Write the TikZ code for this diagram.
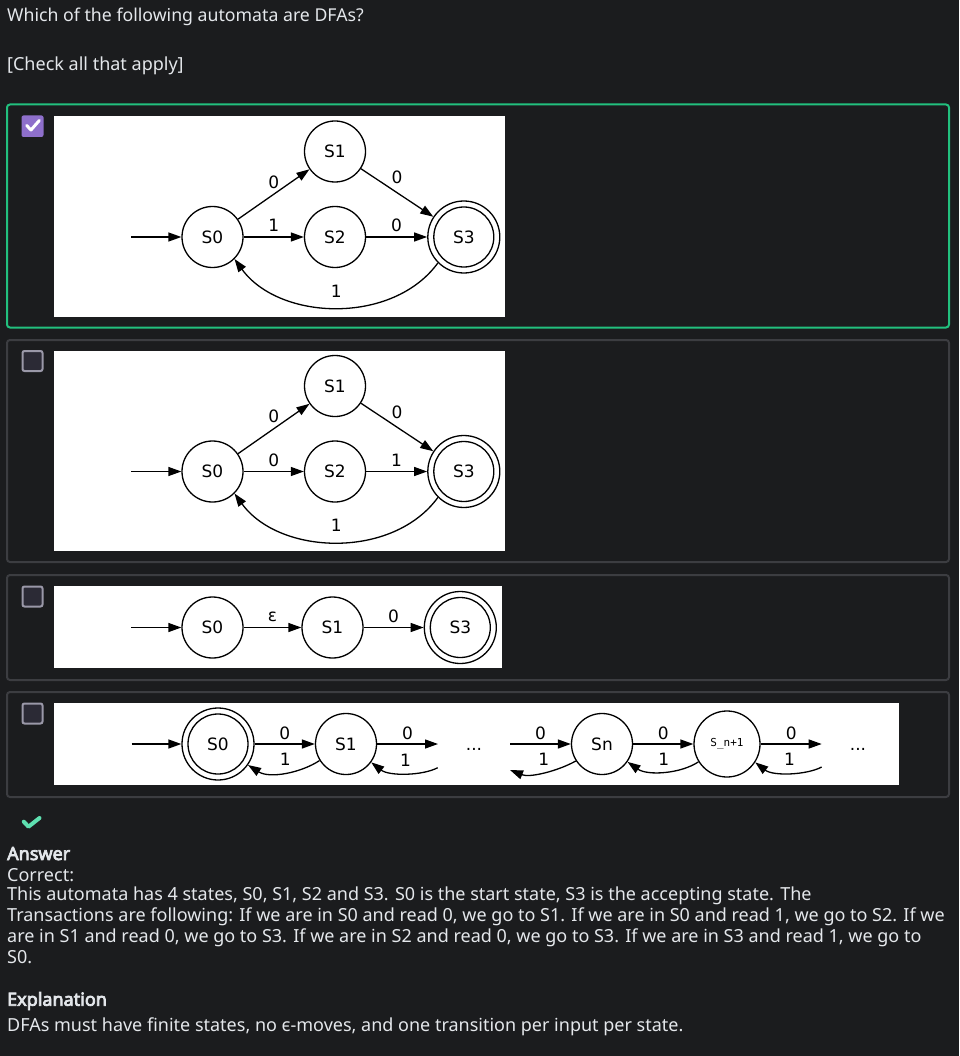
\documentclass[tikz,border=0pt]{standalone}
\usepackage{fontspec}
\setmainfont{Noto Sans}[AutoFakeBold=4]
\newfontfamily\gvfont{DejaVu Sans}
\newfontfamily\gvmono{DejaVu Sans Mono}
\usetikzlibrary{arrows.meta}

\definecolor{pagebg}{HTML}{1B1C1E}
\definecolor{uitext}{HTML}{E4E7EB}
\definecolor{okgreen}{HTML}{22C07E}
\definecolor{cardline}{HTML}{3C3D41}
\definecolor{tickpurple}{HTML}{8E6FCB}
\definecolor{boxfill}{HTML}{2B2A35}
\definecolor{boxline}{HTML}{9A98A8}
\definecolor{mint}{HTML}{5EE0B0}

\tikzset{
  ui/.style={text=uitext, inner sep=0pt, anchor=base west, font=\fontsize{18}{22}\selectfont},
  uititle/.style={ui, font=\fontsize{17.7}{22}\selectfont},
  uibold/.style={ui, font=\fontsize{18}{22}\selectfont\bfseries},
  card/.style={draw=cardline, line width=2pt, rounded corners=3pt},
  cardok/.style={card, draw=okgreen},
  panel/.style={fill=white},
  tickon/.style={fill=tickpurple, rounded corners=2pt},
  tickoff/.style={fill=boxfill, draw=boxline, line width=2pt, rounded corners=2pt},
  state/.style={circle, draw=black, line width=1.3pt, minimum size=61pt, inner sep=0pt,
    text=black, font=\gvfont\fontsize{17}{17}\selectfont},
  accept/.style={state, minimum size=72pt,
    path picture={\draw[line width=1.3pt] (path picture bounding box.center) circle (30pt);}},
  arr/.style={line width=1.3pt, draw=black, -{Triangle[length=13pt,width=9pt]}},
  lbl/.style={inner sep=0pt, anchor=base, text=black, font=\gvfont\fontsize{17}{17}\selectfont},
  dots/.style={inner sep=0pt, anchor=base, text=black, font=\gvfont\fontsize{17}{17}\selectfont},
}

\begin{document}
\begin{tikzpicture}[x=1pt, y=-1pt]
  \useasboundingbox (0,0) rectangle (959,1056);
  \fill[pagebg] (0,0) rectangle (959,1056);

  % question
  \node[uititle] (title) at (7,21.7) {Which of the following automata are DFAs?};
  \node[ui] (hint) at (7,71) {[Check all that apply]};

  % option cards
  \draw[cardok] (7,104.5) rectangle (949,327.5);
  \draw[card] (7,340) rectangle (949,562);
  \draw[card] (7,575) rectangle (949,680);
  \draw[card] (7,692) rectangle (949,797);

  % check boxes
  \fill[tickon] (21.5,115.5) rectangle (43.5,137);
  \draw[white, line width=3pt, line cap=round, line join=round]
    (26.7,125.5) -- (31,130) -- (39.3,120.5);
  \draw[tickoff] (22.5,351) rectangle (42.5,371);
  \draw[tickoff] (22.5,586.5) rectangle (42.5,606.5);
  \draw[tickoff] (22.5,703.5) rectangle (42.5,723.5);

  % white diagram panels
  \fill[panel] (54,116) rectangle (505,317);
  \fill[panel] (54,351) rectangle (505,551);
  \fill[panel] (54,586) rectangle (502,668);
  \fill[panel] (54,703) rectangle (899,785);

  % automaton 1
  \node[state] (a0) at (212.5,237) {S0};
  \node[state] (a1) at (335,151.5) {S1};
  \node[state] (a2) at (335,237) {S2};
  \node[accept] (a3) at (463.8,237) {S3};
  \coordinate (ain) at (131,237);
  \draw[arr] (ain) -- (a0);
  \draw[arr] (a0) -- node[lbl, yshift=6pt] {0} (a1);
  \draw[arr] (a0) -- node[lbl, yshift=5pt] {1} (a2);
  \draw[arr] (a1) -- node[lbl, yshift=9pt] {0} (a3);
  \draw[arr] (a2) -- node[lbl, yshift=5pt] {0} (a3);
  \draw[arr] (a3.225) .. controls +(-45,62) and +(45,62) .. node[lbl, yshift=10pt] {1} (a0.-45);

  % automaton 2
  \node[state] (b0) at (212.5,471.5) {S0};
  \node[state] (b1) at (335,386) {S1};
  \node[state] (b2) at (335,471.5) {S2};
  \node[accept] (b3) at (463.8,471.5) {S3};
  \coordinate (bin) at (131,471.5);
  \draw[arr] (bin) -- (b0);
  \draw[arr] (b0) -- node[lbl, yshift=6pt] {0} (b1);
  \draw[arr] (b0) -- node[lbl, yshift=5pt] {0} (b2);
  \draw[arr] (b1) -- node[lbl, yshift=9pt] {0} (b3);
  \draw[arr] (b2) -- node[lbl, yshift=5pt] {1} (b3);
  \draw[arr] (b3.225) .. controls +(-45,62) and +(45,62) .. node[lbl, yshift=10pt] {1} (b0.-45);

  % automaton 3
  \node[state] (c0) at (212.5,627.5) {S0};
  \node[state] (c1) at (332.5,627.5) {S1};
  \node[accept] (c3) at (460.3,627.5) {S3};
  \coordinate (cin) at (131,627.5);
  \draw[arr] (cin) -- (c0);
  \draw[arr] (c0) -- node[lbl, yshift=6pt] {ε} (c1);
  \draw[arr] (c1) -- node[lbl, yshift=5pt] {0} (c3);

  % automaton 4
  \node[accept] (d0) at (218,744) {S0};
  \node[state] (d1) at (346,744) {S1};
  \node[state] (dn) at (602,744) {Sn};
  \node[state, minimum size=66pt, font=\gvmono\fontsize{11}{11}\selectfont] (dm) at (727,744) {S\_n+1};
  \coordinate (din) at (131.7,744);
  \coordinate (d1out) at (438,744);
  \coordinate (d1back) at (437.7,767.7);
  \coordinate (dnin) at (510,744);
  \coordinate (dnback) at (510,770);
  \coordinate (dmout) at (821.7,744);
  \coordinate (dmback) at (821.7,767);
  \node[dots] (gap1) at (474,750) {...};
  \node[dots] (gap2) at (858,750) {...};

  \draw[arr] (din) -- (d0);
  \draw[arr] (d0) -- node[lbl, yshift=5pt] {0} (d1);
  \draw[arr] (d1.212) .. controls +(-18,12) and +(22,14) .. node[lbl, yshift=7pt] {1} (d0.-35);
  \draw[arr] (d1) -- node[lbl, yshift=5pt] {0} (d1out);
  \draw[arr] (d1back) .. controls +(-15,8) and +(18,14) .. node[lbl, yshift=7pt] {1} (d1.-36);
  \draw[arr] (dnin) -- node[lbl, yshift=5pt] {0} (dn);
  \draw[arr] (dn.213) .. controls +(-18,10) and +(20,8) .. node[lbl, yshift=7pt] {1} (dnback);
  \draw[arr] (dn) -- node[lbl, yshift=5pt] {0} (dm);
  \draw[arr] (dm.212) .. controls +(-18,12) and +(20,14) .. node[lbl, yshift=6pt] {1} (dn.-35);
  \draw[arr] (dm) -- node[lbl, yshift=5pt] {0} (dmout);
  \draw[arr] (dmback) .. controls +(-15,8) and +(18,14) .. node[lbl, yshift=7pt] {1} (dm.-33);

  % feedback
  \draw[mint, line width=4pt, line cap=round, line join=round]
    (23.8,821.7) -- (28.5,826.7) -- (39.5,818);
  \node[uibold] (anshead) at (7,860) {Answer};
  \node[ui] (ans0) at (7,881) {Correct:};
  \node[ui] (ans1) at (7,900.7) {This automata has 4 states, S0, S1, S2 and S3. S0 is the start state, S3 is the accepting state. The};
  \node[ui] (ans2) at (7,921.7) {Transactions are following: If we are in S0 and read 0, we go to S1. If we are in S0 and read 1, we go to S2. If we};
  \node[ui] (ans3) at (7,942.7) {are in S1 and read 0, we go to S3. If we are in S2 and read 0, we go to S3. If we are in S3 and read 1, we go to};
  \node[ui] (ans4) at (7,963) {S0.};
  \node[uibold] (exphead) at (7,1005.7) {Explanation};
  \node[ui] (exp1) at (7,1031.7) {DFAs must have finite states, no ϵ-moves, and one transition per input per state.};
\end{tikzpicture}
\end{document}
